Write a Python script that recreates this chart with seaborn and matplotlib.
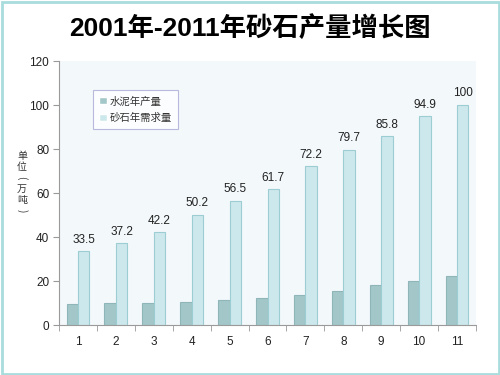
import matplotlib
matplotlib.use("Agg")
import matplotlib.pyplot as plt
import seaborn as sns
import pandas as pd
from matplotlib.patches import Rectangle

categories = ["1", "2", "3", "4", "5", "6", "7", "8", "9", "10", "11"]
cement = [9.5, 9.8, 10.1, 10.4, 11.4, 12.3, 13.6, 15.5, 18.2, 19.8, 22.3]
sand = [33.5, 37.2, 42.2, 50.2, 56.5, 61.7, 72.2, 79.7, 85.8, 94.9, 100]
series_names = ["水泥年产量", "砂石年需求量"]
yticks = [0, 20, 40, 60, 80, 100, 120]
ylabel_chars = ["单", "位", "(", "万", "吨", ")"]

df = pd.DataFrame({
    "cat": categories * 2,
    "value": cement + sand,
    "series": [series_names[0]] * len(categories) + [series_names[1]] * len(categories),
})

sns.set_style("white")
plt.rcParams["font.family"] = ["Liberation Sans", "Noto Sans CJK SC", "DejaVu Sans"]

fig = plt.figure(figsize=(5, 3.75), dpi=100)
ax = fig.add_axes([0.118, 0.1333, 0.834, 0.704])
ax.set_facecolor("#f3f8fb")

face = {series_names[0]: "#a3c7c9", series_names[1]: "#cde8ec"}
edge = {series_names[0]: "#8fb5b8", series_names[1]: "#9ccdd3"}
sns.barplot(data=df, x="cat", y="value", hue="series", order=categories,
            hue_order=series_names, palette=face, width=0.6, ax=ax,
            saturation=1, legend=True)

for cont, name in zip(ax.containers, series_names):
    for b in cont:
        b.set_edgecolor(edge[name])
        b.set_linewidth(0.8)

# labels above sand bars
for b, v in zip(ax.containers[1], sand):
    ax.annotate(f"{v:g}", (b.get_x() + b.get_width() / 2, b.get_height()),
                xytext=(0, 4), textcoords="offset points", ha="center", va="bottom",
                fontsize=8.5, color="#222222")

ax.set_xlim(-0.5, len(categories) - 0.5)
ax.set_ylim(0, 120)
ax.set_yticks(yticks)
ax.set_xlabel("")
ax.set_ylabel("")
for s in ["top", "right"]:
    ax.spines[s].set_visible(False)
for s in ["left", "bottom"]:
    ax.spines[s].set_color("#9a9a9a")
    ax.spines[s].set_linewidth(0.8)

ax.tick_params(axis="y", which="major", direction="out", length=4, color="#9a9a9a",
               labelsize=8.5, labelcolor="#222222", left=True, pad=3)
ax.tick_params(axis="x", which="major", length=0, labelsize=8.5, labelcolor="#222222", pad=8)
ax.set_xticks([i - 0.5 for i in range(len(categories) + 1)], minor=True)
ax.tick_params(axis="x", which="minor", direction="out", length=4, color="#9a9a9a", bottom=True)

leg = ax.legend(loc="upper left", bbox_to_anchor=(0.082, 0.89), borderaxespad=0,
                frameon=True, fancybox=False, handlelength=0.7,
                handleheight=0.7, handletextpad=0.3, labelspacing=0.6,
                borderpad=0.6, prop={"family": ["Noto Sans CJK SC"], "size": 7.5})
leg.get_frame().set_edgecolor("#a9a9d6")
leg.get_frame().set_linewidth(0.8)
leg.get_frame().set_facecolor("white")
for t in leg.get_texts():
    t.set_color("#333333")

# y label, vertical stacked characters (brackets rotated)
ypix = [156, 167, 178, 189, 200, 211]
for ch, yp in zip(ylabel_chars, ypix):
    rot = -90 if ch in "()" else 0
    fig.text(22 / 500, 1 - yp / 375, ch, ha="center", va="center", rotation=rot,
             fontsize=7.2, color="#333333",
             family=["Noto Sans CJK SC", "DejaVu Sans"])

# title
fig.text(0.5, 0.925, "2001年-2011年砂石产量增长图", ha="center", va="center",
         fontsize=19, fontweight="bold", color="black",
         family=["Liberation Sans", "Noto Sans CJK SC"])

# border
fig.patches.append(Rectangle((0.003, 0.004), 0.994, 0.992, transform=fig.transFigure,
                             fill=False, edgecolor="#a9dcdc", linewidth=2))

fig.savefig("out.png", dpi=100)
